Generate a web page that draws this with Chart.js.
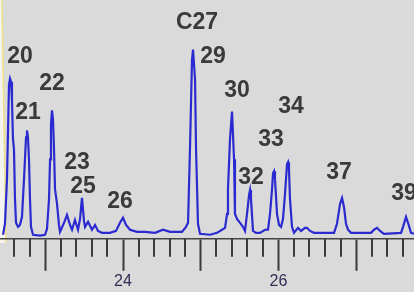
<!DOCTYPE html>
<html>
<head>
<meta charset="utf-8">
<script src="https://cdn.jsdelivr.net/npm/chart.js@4.4.0/dist/chart.umd.min.js"></script>
<style>
  html, body { margin: 0; padding: 0; background: #dadada; }
  #wrap { width: 414px; height: 292px; position: relative; }
</style>
</head>
<body>
<div id="wrap"><canvas id="c"></canvas></div>
<script>
// Retention time (min) of trace vertices
const retentionTime = [
  22.456, 22.481, 22.507, 22.533, 22.546, 22.559, 22.571, 22.584, 22.597, 22.610,
  22.623, 22.649, 22.674, 22.700, 22.726, 22.752, 22.764, 22.777, 22.790, 22.803,
  22.816, 22.842, 22.932, 22.996, 23.022, 23.048, 23.061, 23.073, 23.086, 23.099,
  23.112, 23.125, 23.151, 23.176, 23.189, 23.241, 23.279, 23.318, 23.344, 23.382,
  23.421, 23.447, 23.472, 23.498, 23.511, 23.550, 23.601, 23.640, 23.678, 23.730,
  23.833, 23.910, 23.961, 24.000, 24.039, 24.090, 24.180, 24.283, 24.412, 24.515,
  24.605, 24.759, 24.811, 24.837, 24.862, 24.888, 24.901, 24.927, 24.940, 24.965,
  24.991, 25.120, 25.210, 25.274, 25.313, 25.339, 25.351, 25.377, 25.403, 25.429,
  25.441, 25.467, 25.506, 25.544, 25.570, 25.596, 25.622, 25.635, 25.647, 25.673,
  25.712, 25.763, 25.828, 25.866, 25.892, 25.918, 25.931, 25.944, 25.956, 25.982,
  26.008, 26.034, 26.059, 26.085, 26.111, 26.124, 26.136, 26.149, 26.175, 26.201,
  26.252, 26.291, 26.342, 26.368, 26.407, 26.458, 26.535, 26.716, 26.754, 26.793,
  26.819, 26.844, 26.870, 26.896, 26.934, 27.192, 27.230, 27.269, 27.308, 27.359,
  27.578, 27.604, 27.642, 27.668, 27.707, 27.745
];
// Detector response (relative abundance)
const abundance = [
  1.7, 6.3, 25.0, 64.6, 67.1, 65.8, 58.3, 41.7, 37.5, 16.7,
  6.7, 5.0, 5.8, 9.2, 25.0, 42.5, 45.4, 42.5, 33.3, 16.7,
  5.0, 1.7, 1.3, 1.7, 4.2, 16.7, 33.3, 47.9, 53.8, 50.0,
  37.5, 20.8, 14.6, 5.8, 2.9, 6.7, 10.0, 5.8, 3.8, 7.9,
  3.8, 8.3, 17.1, 7.5, 5.0, 7.1, 3.8, 5.8, 3.3, 2.5,
  2.5, 3.3, 6.7, 8.8, 5.8, 3.8, 2.9, 2.9, 2.5, 3.8,
  2.9, 2.9, 5.0, 6.7, 37.5, 75.0, 79.2, 66.7, 37.5, 6.3,
  2.1, 1.7, 2.5, 3.8, 4.6, 10.4, 20.8, 41.7, 53.3, 33.3,
  10.4, 8.3, 6.7, 5.0, 3.3, 10.4, 18.3, 20.4, 16.7, 3.3,
  2.5, 2.5, 3.8, 3.8, 10.4, 20.8, 27.5, 28.3, 25.0, 10.4,
  5.8, 5.0, 8.3, 18.8, 31.3, 32.1, 29.2, 16.7, 5.0, 2.5,
  4.6, 3.3, 4.6, 4.6, 3.3, 2.5, 2.5, 2.5, 6.3, 14.6,
  17.1, 13.3, 6.3, 3.8, 2.5, 2.5, 3.8, 4.6, 3.3, 2.1,
  2.5, 5.0, 9.2, 6.7, 2.5, 2.1
];
// Peak labels and their anchor (time, abundance)
const peakLabels = ["20", "21", "22", "23", "25", "26", "C27", "29", "30", "32", "33", "34", "37", "39"];
const peakLabelTime = [22.674, 22.777, 23.086, 23.408, 23.485, 23.961, 24.952, 25.158, 25.467, 25.647, 25.905, 26.162, 26.780, 27.617];
const peakLabelLevel = [76.3, 52.9, 65.0, 31.7, 21.7, 15.4, 90.4, 76.3, 62.1, 25.8, 41.7, 55.4, 27.5, 18.8];
// Axis
const xMin = 22.417, xMax = 27.745;
const tickStep = 0.2;
const labelledTicks = [24, 26];

const isMajor = v => Math.abs(v - Math.round(v)) < 1e-6;

const points = retentionTime.map((t, i) => ({ x: t, y: abundance[i] }));

const framePlugin = {
  id: 'frame',
  beforeDraw(chart) {
    const ctx = chart.ctx;
    ctx.save();
    ctx.fillStyle = '#dadada';
    ctx.fillRect(0, 0, chart.width, chart.height);
    ctx.fillStyle = '#f3f3ef';
    ctx.beginPath();
    ctx.moveTo(0, 0); ctx.lineTo(2, 0); ctx.lineTo(6, 243); ctx.lineTo(0, 243);
    ctx.closePath(); ctx.fill();
    ctx.strokeStyle = '#eee08a';
    ctx.lineWidth = 1.5;
    ctx.beginPath(); ctx.moveTo(2, 0); ctx.lineTo(6, 243); ctx.stroke();
    ctx.restore();
  }
};

const minorTickPlugin = {
  id: 'minorTicks',
  afterDraw(chart) {
    const xs = chart.scales.x;
    const ctx = chart.ctx;
    ctx.save();
    ctx.strokeStyle = '#3a3a3a';
    ctx.lineWidth = 2;
    xs.ticks.forEach(tk => {
      if (isMajor(tk.value)) return;
      const px = Math.round(xs.getPixelForValue(tk.value));
      ctx.beginPath();
      ctx.moveTo(px, xs.top);
      ctx.lineTo(px, xs.top + 18);
      ctx.stroke();
    });
    ctx.restore();
  }
};

const peakLabelPlugin = {
  id: 'peakLabels',
  afterDatasetsDraw(chart) {
    const xs = chart.scales.x, ys = chart.scales.y;
    const ctx = chart.ctx;
    ctx.save();
    ctx.fillStyle = '#3a3a3a';
    ctx.font = 'bold 23px "Liberation Sans", Arial, sans-serif';
    ctx.textAlign = 'center';
    ctx.textBaseline = 'middle';
    peakLabels.forEach((txt, i) => {
      ctx.fillText(txt, xs.getPixelForValue(peakLabelTime[i]), ys.getPixelForValue(peakLabelLevel[i]));
    });
    ctx.restore();
  }
};

new Chart(document.getElementById('c'), {
  type: 'line',
  data: {
    datasets: [{
      data: points,
      borderColor: '#2a2ad0',
      borderWidth: 2.2,
      pointRadius: 0,
      tension: 0,
      fill: false
    }]
  },
  options: {
    responsive: true,
    maintainAspectRatio: false,
    animation: false,
    layout: { padding: 0 },
    plugins: { legend: { display: false }, tooltip: { enabled: false } },
    scales: {
      x: {
        type: 'linear',
        min: xMin, max: xMax,
        border: { display: true, color: '#444', width: 1.5 },
        grid: {
          drawOnChartArea: false,
          drawTicks: true,
          tickLength: 32,
          tickWidth: 2,
          tickColor: c => (c.tick && isMajor(c.tick.value)) ? '#3a3a3a' : 'rgba(0,0,0,0)'
        },
        ticks: {
          stepSize: tickStep,
          includeBounds: false,
          autoSkip: false,
          maxRotation: 0,
          padding: 1,
          color: '#2d2d55',
          font: { family: '"Liberation Sans", Arial, sans-serif', size: 16 },
          callback: v => labelledTicks.some(l => Math.abs(l - v) < 1e-6) ? String(Math.round(v)) : ''
        }
      },
      y: { display: false, min: 0, max: 100 }
    }
  },
  plugins: [framePlugin, minorTickPlugin, peakLabelPlugin]
});
</script>
</body>
</html>
